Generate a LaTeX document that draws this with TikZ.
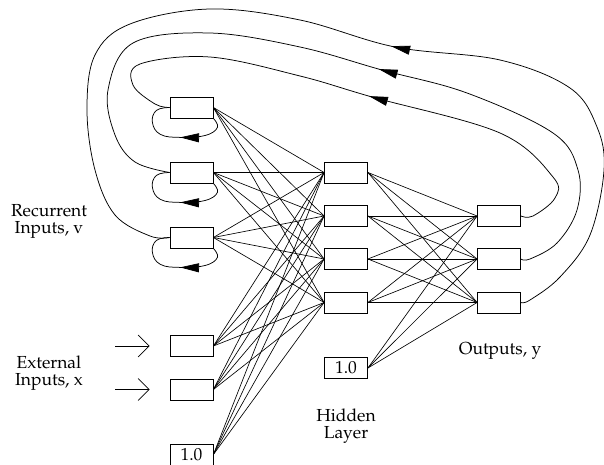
\documentclass[tikz,border=0pt]{standalone}
\usepackage[T1]{fontenc}
\usepackage{mathpazo}
\usetikzlibrary{arrows.meta}
\usetikzlibrary{decorations.markings}

\begin{document}
\begin{tikzpicture}[x=1bp, y=-1bp, font=\fontsize{17.5}{17}\selectfont,
    cell/.style={rectangle, draw, minimum width=43bp, minimum height=21bp, inner sep=0pt, line width=0.8bp},
    link/.style={line width=0.65bp},
    feedback/.style={line width=0.75bp, postaction={decorate},
        decoration={markings, mark=at position #1 with {\arrow{Triangle[length=19bp,width=9bp]}}}},
    extin/.style={line width=0.7bp, -{Straight Barb[length=11bp,width=22bp]}, shorten >=20bp},
    layername/.style={align=center, inner sep=0pt}]
        \useasboundingbox (0,0) rectangle (604,465);
        % Input layer
        \node[cell] (r1) at (191.5,107.5) {};
        \node[cell] (r2) at (191.5,172.5) {};
        \node[cell] (r3) at (191.5,237.5) {};
        \node[cell] (e1) at (191.5,346) {};
        \node[cell] (e2) at (191.5,389.5) {};
        \node[cell] (b1) at (191.5,454.5) {1.0};
        % Hidden layer
        \node[cell] (h1) at (346,172.5) {};
        \node[cell] (h2) at (346,216) {};
        \node[cell] (h3) at (346,259) {};
        \node[cell] (h4) at (346,302.5) {};
        \node[cell] (hb) at (346,368) {1.0};
        % Output layer
        \node[cell] (o1) at (499,216) {};
        \node[cell] (o2) at (499,259) {};
        \node[cell] (o3) at (499,302.5) {};
        % Labels
        \node[layername] (lrec) at (49,221) {Recurrent\\Inputs, v};
        \node[layername] (lext) at (49,373) {External\\Inputs, x};
        \node[layername] (lhid) at (346,426) {Hidden\\Layer};
        \node[layername] (lout) at (500,351) {Outputs, y};
        \coordinate (x1) at (115,346);
        \coordinate (x2) at (115,389.5);
        \draw[extin] (x1) -- (e1);
        \draw[extin] (x2) -- (e2);
        % Weights
        \foreach \i in {r1,r2,r3,e1,e2,b1}
            \foreach \h in {h1,h2,h3,h4}
                \draw[link] (\i.east) -- (\h.west);
        \foreach \h in {h1,h2,h3,h4,hb}
            \foreach \o in {o1,o2,o3}
                \draw[link] (\h.east) -- (\o.west);
        % Self loops
        \foreach \r in {r1,r2,r3}
            \draw[feedback=0.45] plot[smooth, tension=0.7] coordinates {(\r.south east)
                ([shift={(4,9)}]\r.south east) ([shift={(-8,17)}]\r.south east)
                ([shift={(-33,19)}]\r.south east) ([shift={(-53,16)}]\r.south east)
                ([shift={(-61,4)}]\r.south east) ([shift={(-57,-8)}]\r.south east) (\r.west)};
        % Feedback from outputs
        \draw[feedback=0.47] plot[smooth, tension=0.6] coordinates {(o1.east) (533,216) (555,198)
            (553,177) (500,133) (372,97) (300,76) (210,57) (140,64) (133,85) (155,104) (r1.west)};
        \draw[feedback=0.455] plot[smooth, tension=0.6] coordinates {(o2.east) (530,259) (557,243)
            (577,210) (578,170) (553,133) (467,93) (382,70) (300,47) (210,33) (133,43) (108,90)
            (115,135) (135,162) (r2.west)};
        \draw[feedback=0.45] plot[smooth, tension=0.6] coordinates {(o3.east) (530,300) (560,277)
            (590,235) (604,170) (597,127) (570,88) (500,60) (395,47) (300,20) (210,9) (130,24)
            (95,55) (87,110) (95,170) (115,215) (150,236) (r3.west)};
    \end{tikzpicture}
\end{document}
